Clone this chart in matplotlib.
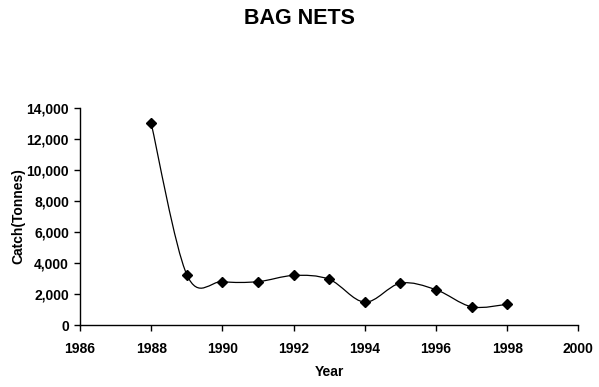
import numpy as np
import matplotlib
matplotlib.use("Agg")
import matplotlib.pyplot as plt
from matplotlib.path import Path
from matplotlib.patches import PathPatch
from matplotlib.ticker import FuncFormatter

years = [1988, 1989, 1990, 1991, 1992, 1993, 1994, 1995, 1996, 1997, 1998]
catch = [13000, 3250, 2800, 2800, 3200, 2950, 1480, 2700, 2280, 1180, 1340]
x_ticks = [1986, 1988, 1990, 1992, 1994, 1996, 1998, 2000]
y_ticks = [0, 2000, 4000, 6000, 8000, 10000, 12000, 14000]

plt.rcParams['font.family'] = ['Liberation Sans', 'DejaVu Sans']

fig = plt.figure(figsize=(5.99, 3.87), dpi=100)
ax = fig.add_axes([0.1336, 0.160, 0.832, 0.561])

# Excel-style smoothed line (cubic Bezier, Catmull-Rom tangents)
xs = np.array(years, dtype=float)
ys = np.array(catch, dtype=float)
verts = [(xs[0], ys[0])]
codes = [Path.MOVETO]
n = len(xs)
for i in range(n - 1):
    p0 = np.array([xs[max(i - 1, 0)], ys[max(i - 1, 0)]])
    p1 = np.array([xs[i], ys[i]])
    p2 = np.array([xs[i + 1], ys[i + 1]])
    p3 = np.array([xs[min(i + 2, n - 1)], ys[min(i + 2, n - 1)]])
    c1 = p1 + (p2 - p0) / 6.0
    c2 = p2 - (p3 - p1) / 6.0
    verts += [tuple(c1), tuple(c2), tuple(p2)]
    codes += [Path.CURVE4, Path.CURVE4, Path.CURVE4]
patch = PathPatch(Path(verts, codes), facecolor='none', edgecolor='black', lw=0.9)
ax.add_patch(patch)
ax.plot(years, catch, linestyle='none', marker='D', markersize=5.5, color='black')

ax.set_xlim(1986, 2000)
ax.set_ylim(0, 14000)
ax.set_xticks(x_ticks)
ax.set_yticks(y_ticks)
ax.yaxis.set_major_formatter(FuncFormatter(lambda v, p: f"{int(v):,}"))
for lab in ax.get_xticklabels() + ax.get_yticklabels():
    lab.set_fontweight('bold')
    lab.set_fontsize(10)
ax.tick_params(axis='both', direction='out', length=4, width=1)
ax.tick_params(axis='x', pad=8)
ax.tick_params(axis='y', pad=4)
ax.spines['top'].set_visible(False)
ax.spines['right'].set_visible(False)
ax.spines['left'].set_linewidth(1)
ax.spines['bottom'].set_linewidth(1)
ax.set_xlabel('Year', fontsize=10, fontweight='bold', labelpad=7)
ax.set_ylabel('Catch(Tonnes)', fontsize=10, fontweight='bold', labelpad=1)
fig.text(0.5, 0.953, 'BAG NETS', ha='center', va='center', fontsize=15.5, fontweight='bold')

fig.savefig('out.png', dpi=100)
